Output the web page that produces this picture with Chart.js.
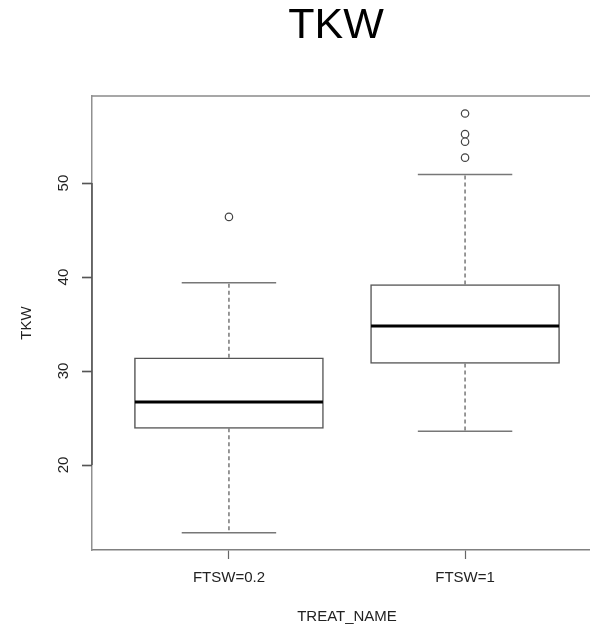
<!DOCTYPE html>
<html><head><meta charset="utf-8">
<script src="https://cdn.jsdelivr.net/npm/chart.js@4.4.1/dist/chart.umd.min.js"></script>
<style>
html,body{margin:0;padding:0;background:#fff;overflow:hidden;width:590px;height:627px}
#wrap{width:590px;height:627px;overflow:hidden;position:relative}
canvas{display:block}
</style></head><body>
<div id="wrap"><canvas id="c" width="672" height="627"></canvas></div>
<script>
// ---- data ----
const categories = ['FTSW=0.2', 'FTSW=1'];
const positions = [1, 2];
const q1 = [23.9, 30.8];
const medians = [26.7, 34.8];
const q3 = [31.4, 39.2];
const whiskerLow = [12.8, 23.6];
const whiskerHigh = [39.4, 50.9];
const outliers = [[46.4], [57.4, 55.2, 54.4, 52.7]];
const yTicks = [20, 30, 40, 50];

const F = "'Liberation Sans', Arial, Helvetica, sans-serif";
const BOX_PX = 189;
const CAP_UNITS = 0.2;
const Y_TICK_LEN = 10;

const boxPlugin = {
  id: 'boxExtras',
  afterDatasetsDraw(chart) {
    const ctx = chart.ctx, xs = chart.scales.x, ys = chart.scales.y;
    ctx.save();
    positions.forEach((p, i) => {
      const cx = xs.getPixelForValue(p);
      ctx.strokeStyle = '#777';
      ctx.lineWidth = 1.5;
      ctx.setLineDash([4, 3]);
      ctx.beginPath();
      ctx.moveTo(cx, ys.getPixelForValue(q3[i]));
      ctx.lineTo(cx, ys.getPixelForValue(whiskerHigh[i]));
      ctx.moveTo(cx, ys.getPixelForValue(q1[i]));
      ctx.lineTo(cx, ys.getPixelForValue(whiskerLow[i]));
      ctx.stroke();
      ctx.setLineDash([]);
      const l = xs.getPixelForValue(p - CAP_UNITS), r = xs.getPixelForValue(p + CAP_UNITS);
      ctx.beginPath();
      ctx.moveTo(l, ys.getPixelForValue(whiskerHigh[i]));
      ctx.lineTo(r, ys.getPixelForValue(whiskerHigh[i]));
      ctx.moveTo(l, ys.getPixelForValue(whiskerLow[i]));
      ctx.lineTo(r, ys.getPixelForValue(whiskerLow[i]));
      ctx.stroke();
      ctx.strokeStyle = '#000';
      ctx.lineWidth = 3;
      ctx.beginPath();
      ctx.moveTo(cx - BOX_PX / 2 + 0.5, ys.getPixelForValue(medians[i]));
      ctx.lineTo(cx + BOX_PX / 2 - 0.5, ys.getPixelForValue(medians[i]));
      ctx.stroke();
    });
    ctx.restore();
  },
  afterDraw(chart) {
    const ctx = chart.ctx, a = chart.chartArea, ys = chart.scales.y;
    ctx.save();
    ctx.strokeStyle = '#8a8a8a';
    ctx.lineWidth = 1.5;
    ctx.beginPath();
    ctx.moveTo(a.left, a.top);
    ctx.lineTo(a.right, a.top);
    ctx.stroke();
    ctx.strokeStyle = '#555';
    ctx.lineWidth = 1.5;
    ctx.beginPath();
    ctx.moveTo(a.left, ys.getPixelForValue(yTicks[0]));
    ctx.lineTo(a.left, ys.getPixelForValue(yTicks[yTicks.length - 1]));
    ctx.stroke();
    ctx.lineWidth = 1.5;
    ctx.beginPath();
    yTicks.forEach(v => {
      const py = Math.round(ys.getPixelForValue(v)) + 0.5;
      ctx.moveTo(a.left - Y_TICK_LEN, py);
      ctx.lineTo(a.left, py);
    });
    ctx.stroke();
    ctx.restore();
  }
};

new Chart(document.getElementById('c').getContext('2d'), {
  type: 'bar',
  data: {
    datasets: [
      {
        type: 'bar',
        data: positions.map((p, i) => ({ x: p, y: [q1[i], q3[i]] })),
        backgroundColor: '#fff',
        borderColor: '#555',
        borderWidth: 1.5,
        borderSkipped: false,
        barThickness: BOX_PX
      },
      {
        type: 'scatter',
        data: outliers.flatMap((arr, i) => arr.map(v => ({ x: positions[i], y: v }))),
        pointRadius: 3.7,
        pointBorderColor: '#444',
        pointBackgroundColor: '#fff',
        pointBorderWidth: 1.2,
        showLine: false
      }
    ]
  },
  options: {
    responsive: false,
    animation: false,
    devicePixelRatio: 1,
    layout: { padding: 0 },
    plugins: {
      legend: { display: false },
      tooltip: { enabled: false },
      title: {
        display: true, text: 'TKW', color: '#000',
        font: { family: F, size: 43, weight: 'normal', lineHeight: 1 },
        padding: { top: 5, bottom: 48 }
      }
    },
    scales: {
      x: {
        type: 'linear', min: 0.42, max: 2.58, offset: false,
        afterBuildTicks: s => { s.ticks = positions.map(v => ({ value: v })); },
        afterFit: s => { s.height = 77; },
        ticks: {
          callback: v => categories[positions.indexOf(v)],
          color: '#222', font: { family: F, size: 15 }, padding: 10,
          maxRotation: 0, autoSkip: false
        },
        grid: { offset: false, drawOnChartArea: false, drawTicks: true, tickLength: 9, tickColor: '#666', tickWidth: 1.2 },
        border: { display: true, color: '#808080', width: 1.5 },
        title: { display: true, text: 'TREAT_NAME', color: '#222', font: { family: F, size: 15 }, padding: { top: 0, bottom: 1 } }
      },
      y: {
        type: 'linear', position: 'left', min: 10.96, max: 59.26,
        afterBuildTicks: s => { s.ticks = yTicks.map(v => ({ value: v })); },
        afterFit: s => { s.width = 92; },
        ticks: {
          minRotation: 90, maxRotation: 90, crossAlign: 'center', padding: 10,
          color: '#222', font: { family: F, size: 15 }, autoSkip: false
        },
        grid: { offset: false, display: true, drawOnChartArea: false, drawTicks: true, tickLength: 10, tickColor: '#555', tickWidth: 1.2 },
        border: { display: true, color: '#909090', width: 1.5 },
        title: { display: true, text: 'TKW', color: '#222', font: { family: F, size: 15 }, padding: { top: 18, bottom: 0 } }
      },
      yRight: {
        type: 'linear', position: 'right', min: 10.96, max: 59.26,
        afterFit: s => { s.width = 70; },
        ticks: { display: false },
        grid: { display: false },
        border: { display: false }
      }
    }
  },
  plugins: [boxPlugin]
});
</script>
</body></html>
